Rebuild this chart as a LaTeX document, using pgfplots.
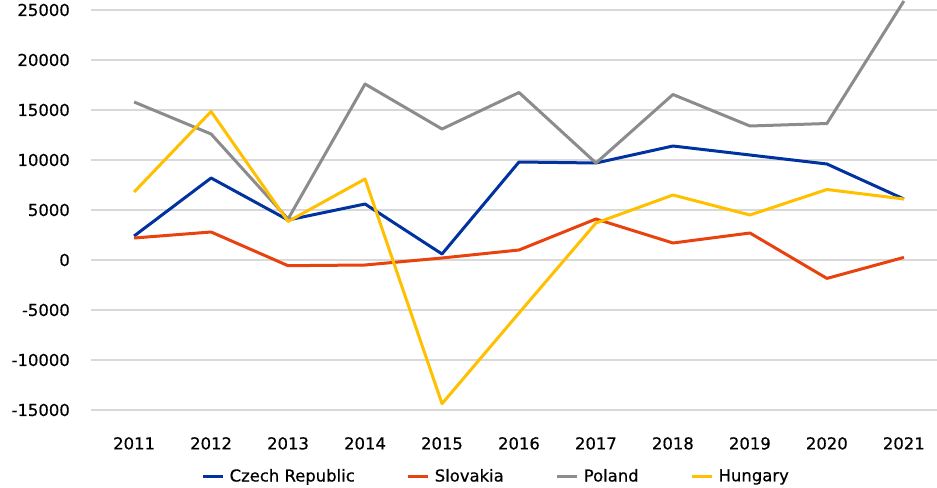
\documentclass[border=0pt]{standalone}
\usepackage{fontspec}
\setmainfont{DejaVu Sans}[FakeBold=0.5]
\usepackage{pgfplots}
\pgfplotsset{compat=1.18}
\definecolor{czblue}{HTML}{0033A0}
\definecolor{skred}{HTML}{E8420E}
\definecolor{plgray}{HTML}{8C8C8C}
\definecolor{huyellow}{HTML}{FFC000}
\definecolor{gridgray}{HTML}{D9D9D9}
\begin{document}
\begin{tikzpicture}
\useasboundingbox (-91bp,-78bp) rectangle (846bp,410bp);
\begin{axis}[name=ax, at={(0,0)}, anchor=south west,
  scale only axis, width=846bp, height=410bp,
  xmin=2010.44, xmax=2021.43, ymin=-15000, ymax=26000,
  axis line style={draw=none}, major tick length=0pt,
  xtick={2011,...,2021}, ytick={-15000,-10000,...,25000},
  ymajorgrids, grid style={line width=1.5bp, color=gridgray},
  /pgf/number format/assume math mode=true,
  scaled y ticks=false,
  /pgf/number format/1000 sep={},
  tick label style={font=\fontsize{16.5}{19}\selectfont, text=black},
  yticklabel style={anchor=east, inner sep=0pt, xshift=-21bp},
  xticklabel style={anchor=north, inner sep=0pt, yshift=-27bp},
  legend columns=4,
  legend style={at={(0.479,-0.161)}, anchor=center, draw=none, fill=none,
    font=\fontsize{16.5}{19}\selectfont,
    /tikz/every even column/.append style={column sep=50bp}},
  legend image code/.code={\draw[#1, line width=3bp] (0bp,0bp) -- (20bp,0bp); \path (23bp,0bp);},
  every axis plot/.append style={line width=3bp, line join=round},
]
\addplot[czblue] coordinates {(2011,2400) (2012,8200) (2013,4000) (2014,5600) (2015,600) (2016,9800) (2017,9700) (2018,11400) (2019,10500) (2020,9600) (2021,6100)};
\addlegendentry{Czech Republic}
\addplot[skred] coordinates {(2011,2200) (2012,2800) (2013,-570) (2014,-500) (2015,200) (2016,1000) (2017,4100) (2018,1700) (2019,2700) (2020,-1840) (2021,260)};
\addlegendentry{Slovakia}
\addplot[plgray] coordinates {(2011,15800) (2012,12600) (2013,4100) (2014,17600) (2015,13100) (2016,16750) (2017,9700) (2018,16550) (2019,13400) (2020,13650) (2021,25900)};
\addlegendentry{Poland}
\addplot[huyellow] coordinates {(2011,6800) (2012,14850) (2013,3850) (2014,8100) (2015,-14370) (2016,-5300) (2017,3700) (2018,6500) (2019,4500) (2020,7050) (2021,6100)};
\addlegendentry{Hungary}
\end{axis}
\end{tikzpicture}
\end{document}
